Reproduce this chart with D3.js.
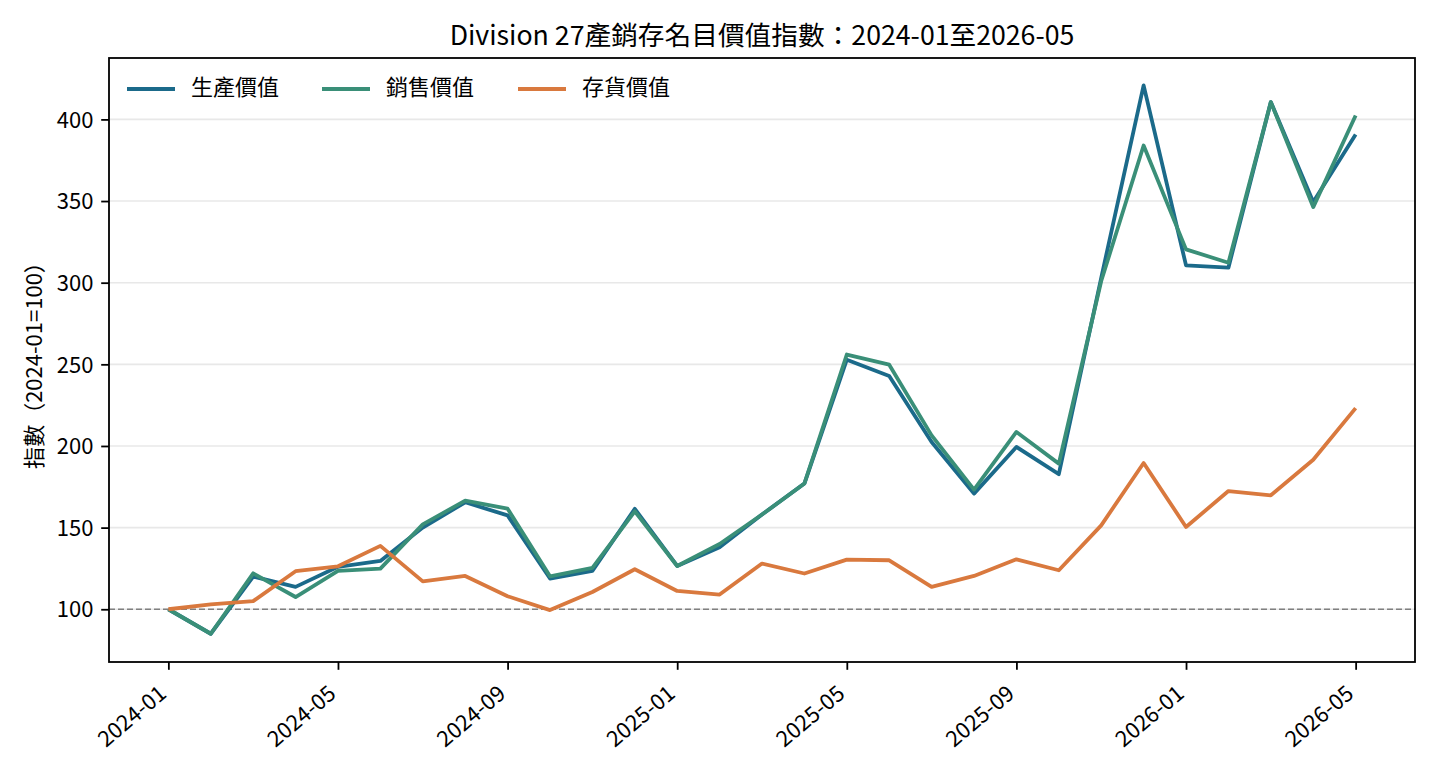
<!DOCTYPE html>
<html>
<head>
<meta charset="utf-8">
<script src="https://cdn.jsdelivr.net/npm/d3@7"></script>
<style>
  body { margin: 0; background: #fff; }
  text { font-family: "Noto Sans CJK TC", "Noto Sans CJK SC", "Noto Sans", sans-serif; }
</style>
</head>
<body>
<div id="chart"></div>
<script>
// months 2024-01 .. 2026-05
var months = ["2024-01","2024-02","2024-03","2024-04","2024-05","2024-06","2024-07","2024-08","2024-09","2024-10","2024-11","2024-12",
              "2025-01","2025-02","2025-03","2025-04","2025-05","2025-06","2025-07","2025-08","2025-09","2025-10","2025-11","2025-12",
              "2026-01","2026-02","2026-03","2026-04","2026-05"];
var production = [100, 85, 120, 113.7, 126, 129.6, 150, 165.5, 157.5, 118.8, 123.5, 161.5,
                  126.5, 138, 158, 177, 252.8, 242.9, 202.4, 170.8, 199.4, 182.7, 303, 420.8,
                  310.6, 309.2, 410.6, 349.4, 390.8];
var sales = [100, 85, 122, 107.5, 123.5, 124.9, 152, 166.5, 161.6, 120.2, 125.3, 160,
             126.5, 140, 158, 177, 256, 249.8, 206.5, 173.3, 208.6, 189.2, 301, 384,
             320.4, 312.2, 410.6, 346.3, 402.4];
var inventory = [100, 103, 105, 123.3, 126.3, 138.8, 117.1, 120.4, 108, 99.5, 110.6, 124.5,
                 111.2, 109, 128, 121.9, 130.4, 130, 113.7, 120.4, 130.6, 123.9, 151.4, 189.6,
                 150.4, 172.4, 169.8, 191.6, 223.2];
var seriesNames = ["生產價值", "銷售價值", "存貨價值"];
var seriesColors = ["#1b6a8a", "#3a8f78", "#d9793e"];
var yTicks = [100, 150, 200, 250, 300, 350, 400];
var xTickLabels = ["2024-01","2024-05","2024-09","2025-01","2025-05","2025-09","2026-01","2026-05"];

var width = 1440, height = 768;
var mLeft = 109, mRight = 1415, mTop = 58, mBottom = 662;
var fs = 22;

var svg = d3.select("#chart").append("svg").attr("width", width).attr("height", height);

var x = d3.scaleLinear().domain([-1.4, 29.4]).range([mLeft, mRight]);
var y = d3.scaleLinear().domain([67.7, 437.6]).range([mBottom, mTop]);

// grid
svg.append("g").selectAll("line").data(yTicks).enter().append("line")
    .attr("x1", mLeft).attr("x2", mRight)
    .attr("y1", function(d) { return y(d); }).attr("y2", function(d) { return y(d); })
    .attr("stroke", "#e8e8e8").attr("stroke-width", 1.6);

// baseline at 100
svg.append("line")
    .attr("x1", mLeft).attr("x2", mRight)
    .attr("y1", y(100)).attr("y2", y(100))
    .attr("stroke", "#808080").attr("stroke-width", 1.6)
    .attr("stroke-dasharray", "6,3");

var line = d3.line()
    .x(function(d, i) { return x(i); })
    .y(function(d) { return y(d); });

var allSeries = [production, sales, inventory];
svg.append("g").selectAll("path").data(allSeries).enter().append("path")
    .attr("d", line)
    .attr("fill", "none")
    .attr("stroke", function(d, i) { return seriesColors[i]; })
    .attr("stroke-width", 3.8)
    .attr("stroke-linejoin", "round");

// axes
var yAxis = svg.append("g").attr("transform", "translate(" + mLeft + ",0)")
    .call(d3.axisLeft(y).tickValues(yTicks).tickSize(7.8).tickPadding(7.8));
var tickIdx = xTickLabels.map(function(l) { return months.indexOf(l); });
var xAxis = svg.append("g").attr("transform", "translate(0," + mBottom + ")")
    .call(d3.axisBottom(x).tickValues(tickIdx).tickSize(7.8).tickFormat(function(d) { return months[d]; }));

[xAxis, yAxis].forEach(function(g) {
    g.select(".domain").remove();
    g.selectAll(".tick line").attr("stroke", "#000").attr("stroke-width", 1.8);
    g.selectAll("text").attr("fill", "#000").style("font-size", fs + "px")
        .style("font-family", "'Noto Sans CJK TC', sans-serif");
});
yAxis.selectAll("text").attr("dy", "0.35em");
xAxis.selectAll("text")
    .attr("text-anchor", "end")
    .attr("y", 0)
    .attr("dy", "0")
    .attr("transform", "translate(-1,34) rotate(-40)");

// frame
svg.append("rect").attr("x", mLeft).attr("y", mTop)
    .attr("width", mRight - mLeft).attr("height", mBottom - mTop)
    .attr("fill", "none").attr("stroke", "#000").attr("stroke-width", 1.8);

// title
svg.append("text")
    .attr("x", (mLeft + mRight) / 2).attr("y", 44.5)
    .attr("text-anchor", "middle")
    .style("font-size", "26.7px")
    .text("Division 27產銷存名目價值指數：2024-01至2026-05");

// y label
svg.append("text")
    .attr("transform", "translate(41.5," + ((mTop + mBottom) / 2) + ") rotate(-90)")
    .attr("text-anchor", "middle")
    .style("font-size", fs + "px")
    .text("指數（2024-01=100）");

// legend
var legX = [127, 322, 518];
seriesNames.forEach(function(name, i) {
    svg.append("line")
        .attr("x1", legX[i]).attr("x2", legX[i] + 48)
        .attr("y1", 89).attr("y2", 89)
        .attr("stroke", seriesColors[i]).attr("stroke-width", 3.8);
    svg.append("text")
        .attr("x", legX[i] + 64).attr("y", 95)
        .style("font-size", fs + "px")
        .text(name);
});
</script>
</body>
</html>
